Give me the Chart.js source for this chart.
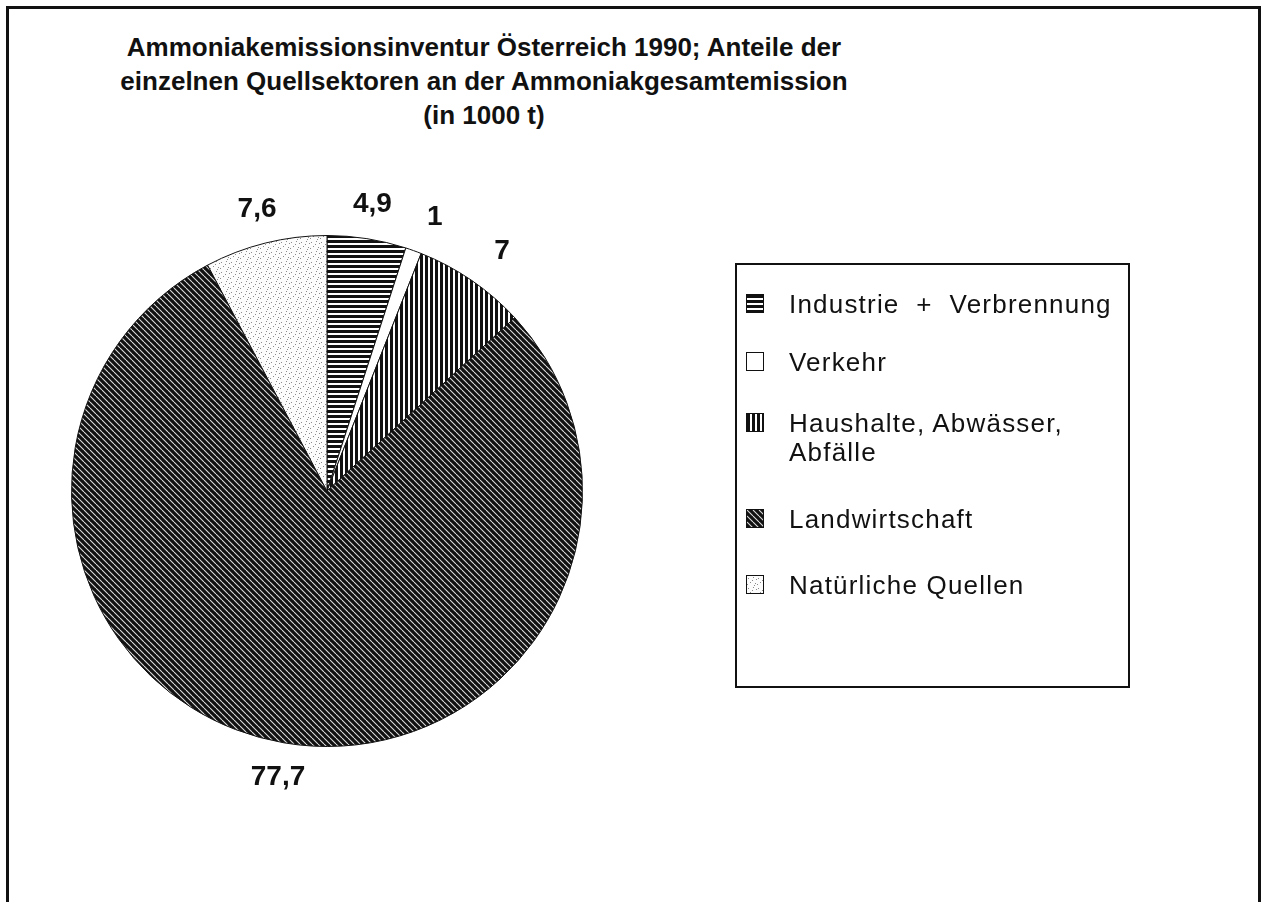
<!DOCTYPE html>
<html>
<head>
<meta charset="utf-8">
<script src="https://cdn.jsdelivr.net/npm/chart.js@4.4.1/dist/chart.umd.min.js"></script>
<style>
  body { margin: 0; background: #fff; }
  #wrap { position: relative; width: 1262px; height: 902px; overflow: hidden;
          font-family: "Liberation Sans", Arial, sans-serif; color: #111; }
  #frame { position: absolute; left: 6px; top: 6px; width: 1249px; height: 1000px;
           border: 3px solid #111; }
  #title { position: absolute; left: 84px; width: 800px; top: 30px; text-align: center;
           font-weight: bold; font-size: 26px; line-height: 34px; }
  #pie { position: absolute; left: 0; top: 0; }
  #legend { position: absolute; left: 735px; top: 263px; width: 391px; height: 421px;
            border: 2px solid #111; }
  .item { position: absolute; left: 9px; display: flex; align-items: flex-start;
          font-size: 26px; line-height: 29px; letter-spacing: 1.2px; }
  .item canvas { border: 1px solid #111; margin-top: 4px; margin-right: 25px; flex: none; }
</style>
</head>
<body>
<div id="wrap">
  <div id="frame"></div>
  <div id="title">Ammoniakemissionsinventur Österreich 1990; Anteile der<br>einzelnen Quellsektoren an der Ammoniakgesamtemission<br>(in 1000 t)</div>
  <canvas id="pie" width="1262" height="902"></canvas>
  <div id="legend"></div>
</div>
<script>
// data
const categories = ['Industrie + Verbrennung', 'Verkehr', 'Haushalte, Abwässer, Abfälle', 'Landwirtschaft', 'Natürliche Quellen'];
const legendLines = [['Industrie  +  Verbrennung'], ['Verkehr'], ['Haushalte, Abwässer,', 'Abfälle'], ['Landwirtschaft'], ['Natürliche Quellen']];
const values = [4.9, 1, 7, 77.7, 7.6];
const fills = ['hstripes', 'white', 'vstripes', 'diagonal', 'dots'];

// legend row tops inside the box
const legendTops = [25, 83, 144, 240, 306];

// --- hatch patterns (black and white scan look) ---
function makePattern(kind) {
    const c = document.createElement('canvas');
    const g = c.getContext('2d');
    if (kind === 'hstripes') {
        c.width = 5; c.height = 5;
        g.fillStyle = '#fff'; g.fillRect(0, 0, 5, 5);
        g.fillStyle = '#111'; g.fillRect(0, 0, 5, 3);
    } else if (kind === 'vstripes') {
        c.width = 5; c.height = 5;
        g.fillStyle = '#fff'; g.fillRect(0, 0, 5, 5);
        g.fillStyle = '#111'; g.fillRect(0, 0, 3, 5);
    } else if (kind === 'diagonal') {
        const s = 6;
        c.width = s; c.height = s;
        g.fillStyle = '#111'; g.fillRect(0, 0, s, s);
        g.strokeStyle = '#dcdcdc'; g.lineWidth = 1.1;
        for (let k = -1; k <= 1; k++) {
            g.beginPath(); g.moveTo(k * s, 0); g.lineTo(k * s + s, s); g.stroke();
        }
    } else if (kind === 'dots') {
        c.width = 10; c.height = 10;
        g.fillStyle = '#fcfcfc'; g.fillRect(0, 0, 10, 10);
        g.fillStyle = '#8a8a8a';
        [[1, 2], [6, 1], [3, 6], [8, 7], [5, 4], [0, 8], [9, 3], [7, 9]].forEach(p => g.fillRect(p[0], p[1], 1, 1));
    } else {
        c.width = 2; c.height = 2;
        g.fillStyle = '#fff'; g.fillRect(0, 0, 2, 2);
    }
    return c;
}

const ctx = document.getElementById('pie').getContext('2d');
const patterns = fills.map(f => ctx.createPattern(makePattern(f), 'repeat'));

// value labels outside each slice; labels on the right flank start at the anchor
const outsideLabels = {
    id: 'outsideLabels',
    afterDatasetsDraw(chart) {
        const c = chart.ctx;
        const meta = chart.getDatasetMeta(0);
        c.save();
        c.font = 'bold 28px "Liberation Sans", Arial, sans-serif';
        c.fillStyle = '#111';
        c.textBaseline = 'middle';
        meta.data.forEach((arc, i) => {
            const p = arc.getProps(['x', 'y', 'startAngle', 'endAngle', 'outerRadius'], true);
            const mid = (p.startAngle + p.endAngle) / 2;
            const side = Math.cos(mid) > 0.3;
            const r = p.outerRadius + (side ? 40 : 35);
            c.textAlign = side ? 'left' : 'center';
            c.fillText(String(values[i]).replace('.', ','), p.x + Math.cos(mid) * r, p.y + Math.sin(mid) * r + (side ? 4 : 0));
        });
        c.restore();
    }
};

new Chart(ctx, {
    type: 'pie',
    data: {
        labels: categories,
        datasets: [{
            data: values,
            backgroundColor: patterns,
            borderColor: '#111',
            borderWidth: 1
        }]
    },
    options: {
        responsive: false,
        animation: false,
        layout: { padding: { left: 71, right: 679, top: 235, bottom: 155 } },
        plugins: {
            legend: { display: false },
            tooltip: { enabled: false }
        }
    },
    plugins: [outsideLabels]
});

// legend box
const legend = document.getElementById('legend');
categories.forEach((cat, i) => {
    const row = document.createElement('div');
    row.className = 'item';
    row.style.top = legendTops[i] + 'px';
    const sw = document.createElement('canvas');
    sw.width = 16; sw.height = 17;
    const g = sw.getContext('2d');
    g.fillStyle = g.createPattern(makePattern(fills[i]), 'repeat');
    g.fillRect(0, 0, 16, 17);
    row.appendChild(sw);
    const txt = document.createElement('div');
    txt.innerHTML = legendLines[i].join('<br>').replace(/  /g, '&nbsp; ');
    row.appendChild(txt);
    legend.appendChild(row);
});
</script>
</body>
</html>
